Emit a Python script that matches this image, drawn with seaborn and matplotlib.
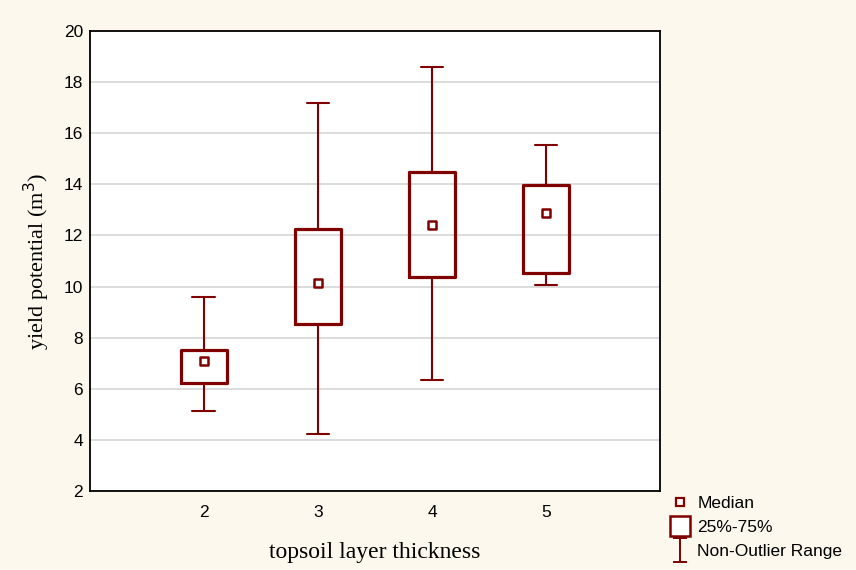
import numpy as np
import pandas as pd
import seaborn as sns
from matplotlib import pyplot as plt
from matplotlib.lines import Line2D
from matplotlib.path import Path

# summary values per group: lower whisker, q1, median, q3, upper whisker
thickness = [2, 3, 4, 5]
low = [5.13, 4.24, 6.35, 10.05]
q1 = [6.23, 8.53, 10.38, 10.53]
median = [7.09, 10.14, 12.39, 12.86]
q3 = [7.52, 12.25, 14.48, 13.97]
high = [9.59, 17.18, 18.59, 15.52]

red = '#800000'

# five values per group -> quartiles fall exactly on the listed values
rows = []
for i, t in enumerate(thickness):
    for v in (low[i], q1[i], median[i], q3[i], high[i]):
        rows.append({'thickness': t, 'yield': v})
df = pd.DataFrame(rows)
med_df = pd.DataFrame({'thickness': thickness, 'yield': median})

sns.set_style('white')
plt.rcParams['font.family'] = ['Liberation Sans', 'DejaVu Sans']
plt.rcParams['text.color'] = 'black'
plt.rcParams['xtick.color'] = 'black'
plt.rcParams['ytick.color'] = 'black'
plt.rcParams['axes.labelcolor'] = 'black'

fig = plt.figure(figsize=(8.56, 5.70), dpi=100, facecolor='#fdf8ee')
ax = fig.add_axes([0.105, 0.1386, 0.666, 0.807])
ax.set_facecolor('white')

sns.boxplot(data=df, x='thickness', y='yield', native_scale=True, whis=(0, 100),
            width=0.4, fill=False, color=red, linewidth=2.3,
            whiskerprops=dict(linewidth=1.5), capprops=dict(linewidth=1.5),
            medianprops=dict(linewidth=0), ax=ax)
sns.scatterplot(data=med_df, x='thickness', y='yield', marker='s', s=30,
                facecolor='white', edgecolor=red, linewidth=1.8, zorder=5, ax=ax)

ax.set_xlim(1, 6)
ax.set_ylim(2, 20)
ax.set_xticks(thickness)
ax.set_yticks(np.arange(2, 21, 2))
ax.yaxis.grid(True, color='#d9d9d9', linewidth=1.3)
ax.set_axisbelow(True)
for s in ax.spines.values():
    s.set_color('black')
    s.set_linewidth(1.3)
ax.tick_params(axis='both', labelsize=12.5, direction='in', length=3, width=1.2)
ax.tick_params(axis='x', pad=10)
ax.tick_params(axis='y', pad=5)
ax.set_xlabel('topsoil layer thickness', family='Liberation Serif', fontsize=17, labelpad=16)
ax.set_ylabel('yield potential (m$^3$)', family='Liberation Serif', fontsize=16, labelpad=8)

# legend with custom glyphs
ibeam = Path([(-0.6, 1), (0.6, 1), (0, 1), (0, -1), (-0.6, -1), (0.6, -1)],
             [Path.MOVETO, Path.LINETO, Path.MOVETO, Path.LINETO, Path.MOVETO, Path.LINETO])
handles = [
    Line2D([], [], linestyle='none', marker='s', markersize=5.5, markerfacecolor='white',
           markeredgecolor=red, markeredgewidth=1.6),
    Line2D([], [], linestyle='none', marker='s', markersize=14, markerfacecolor='white',
           markeredgecolor=red, markeredgewidth=1.8),
    Line2D([], [], linestyle='none', marker=ibeam, markersize=17, markerfacecolor='none',
           markeredgecolor=red, markeredgewidth=1.4),
]
fig.legend(handles, ['Median', '25%-75%', 'Non-Outlier Range'], loc='upper left',
           bbox_to_anchor=(0.773, 0.145), frameon=False, fontsize=12.5,
           handlelength=1.1, handletextpad=0.45, labelspacing=0.5, borderpad=0)

fig.savefig('out.png', dpi=100, facecolor=fig.get_facecolor())
